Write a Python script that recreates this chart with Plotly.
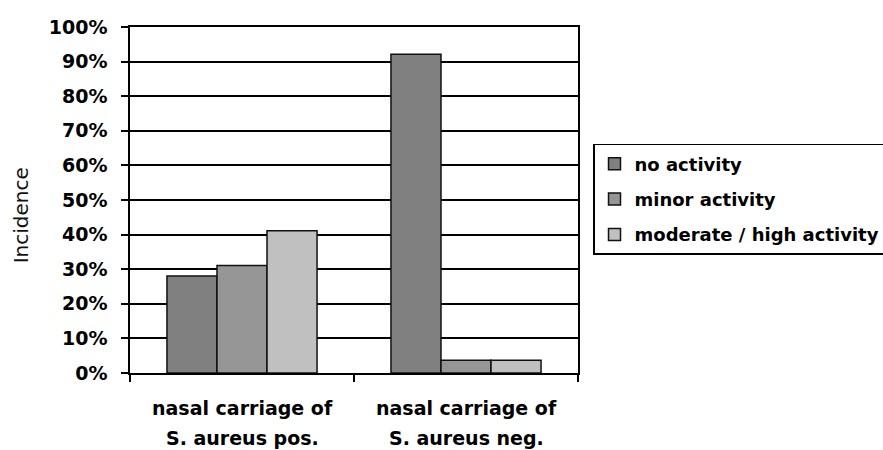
import plotly.graph_objects as go

# Incidence of activity levels by nasal carriage status
categories = ["S. aureus pos.", "S. aureus neg."]
category_prefix = "nasal carriage of"
series_names = ["no activity", "minor activity", "moderate / high activity"]
no_activity = [0.28, 0.921]
minor_activity = [0.311, 0.037]
moderate_high_activity = [0.411, 0.037]
series_values = [no_activity, minor_activity, moderate_high_activity]
series_colors = ["#808080", "#969696", "#C0C0C0"]
y_tick_values = [0, 0.1, 0.2, 0.3, 0.4, 0.5, 0.6, 0.7, 0.8, 0.9, 1.0]

FONT = "DejaVu Sans"
LABEL_FONT = dict(family=FONT, size=19, weight="bold", color="black")

fig = go.Figure()
for name, vals, color in zip(series_names, series_values, series_colors):
    fig.add_trace(go.Bar(
        x=categories, y=vals, name=name, legendgroup=name,
        marker=dict(color=color, line=dict(color="#111111", width=1.5)),
    ))

fig.update_layout(
    width=883, height=450,
    margin=dict(l=130, r=305, t=27, b=77, autoexpand=False),
    paper_bgcolor="white", plot_bgcolor="white",
    barmode="group", bargap=0.33, bargroupgap=0,
    font=dict(family=FONT, color="black"),
    showlegend=True,
    legend=dict(
        x=1.0335, xanchor="left", y=0.662, yanchor="top",
        bgcolor="white", bordercolor="black", borderwidth=1.5,
        font=dict(family=FONT, size=18, weight="bold", color="black"),
        traceorder="grouped", tracegroupgap=9,
    ),
)

fig.update_xaxes(
    showline=True, linecolor="black", linewidth=1.5, mirror=True,
    ticks="outside", tickson="boundaries", ticklen=7, tickcolor="black", tickwidth=1.5,
    showticklabels=False,
    showgrid=False,
)
fig.update_yaxes(
    range=[0, 1], tickvals=y_tick_values, tickformat=".0%",
    showline=True, linecolor="black", linewidth=1.5, mirror=True,
    ticks="outside", ticklen=7, tickcolor="black", tickwidth=1.5,
    tickfont=LABEL_FONT,
    ticklabelstandoff=10,
    showgrid=True, gridcolor="black", gridwidth=1.5,
    zeroline=False,
)

# Two-line category labels under each group
for cat in categories:
    fig.add_annotation(
        text=category_prefix, x=cat, xref="x", yref="paper", y=0,
        yshift=-35, xanchor="center", yanchor="middle", showarrow=False,
        font=LABEL_FONT,
    )
    fig.add_annotation(
        text=cat, x=cat, xref="x", yref="paper", y=0,
        yshift=-65, xanchor="center", yanchor="middle", showarrow=False,
        font=LABEL_FONT,
    )

# Y-axis caption
fig.add_annotation(
    text="Incidence", textangle=-90,
    xref="paper", yref="paper", x=-0.243, y=0.456,
    xanchor="center", yanchor="middle", showarrow=False,
    font=dict(family=FONT, size=20, color="#111111"),
)

fig.write_html("out.html")
